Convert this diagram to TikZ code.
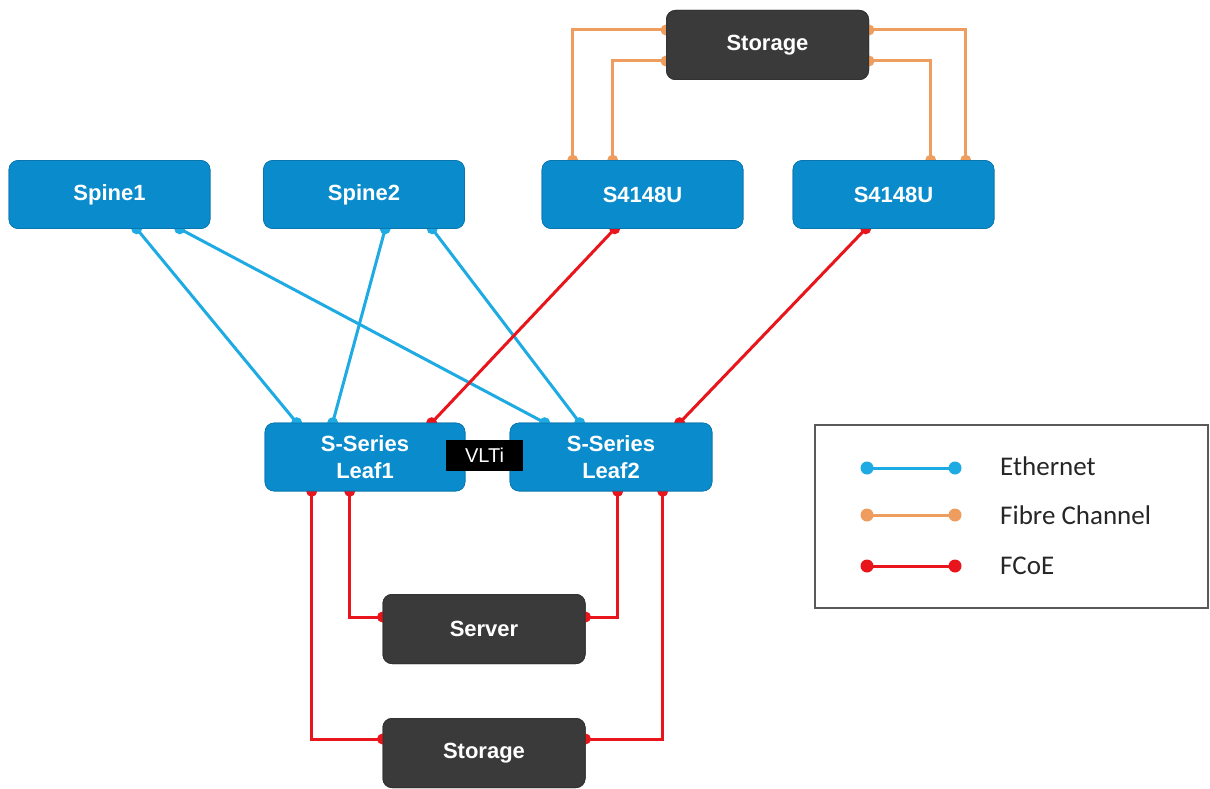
\documentclass[tikz,border=0pt]{standalone}
\usepackage{fontspec}
\setmainfont{Liberation Sans}
\newfontfamily\legendfont{Carlito}
\usetikzlibrary{calc}
\definecolor{dellblue}{HTML}{0A8BCB}
\definecolor{darkbox}{HTML}{3A3A3A}
\definecolor{ethc}{HTML}{1EAAE2}
\definecolor{fcc}{HTML}{EE9D5E}
\definecolor{fcoec}{HTML}{E8161C}
\begin{document}
\begin{tikzpicture}[x=1pt,y=-1pt,
  bluebox/.style={draw=dellblue!85!black, line width=0.6pt, fill=dellblue, rounded corners=9pt, text=white,
    font=\fontsize{22}{27}\selectfont\bfseries, align=center, inner sep=0pt, minimum width=201pt, minimum height=68pt},
  darkbox/.style={draw=black!80, line width=1pt, fill=darkbox, rounded corners=9pt, text=white,
    font=\fontsize{22}{27}\selectfont\bfseries, inner sep=0pt, minimum width=202pt, minimum height=69pt},
  vltibox/.style={fill=black, text=white, inner sep=0pt, minimum width=77pt, minimum height=31pt,
    font=\fontsize{20}{22}\selectfont},
  eth/.style={draw=ethc, line width=3pt},
  fc/.style={draw=fcc, line width=3pt},
  fcoe/.style={draw=fcoec, line width=3pt},
  legtext/.style={anchor=west, inner sep=0pt, font=\legendfont\fontsize{27}{30}\selectfont, text=black!85}
]
\useasboundingbox (0,0) rectangle (1210,789);

% nodes
\node[bluebox] (spine1) at (109.5,194.5) {Spine1};
\node[bluebox] (spine2) at (364,194.5) {Spine2};
\node[bluebox] (s1) at (642.5,194.5) {S4148U};
\node[bluebox] (s2) at (893.5,194.5) {S4148U};
\node[darkbox] (stortop) at (767.5,45) {Storage};
\node[bluebox, minimum width=200pt] (leaf1) at (365,457) {S-Series\\Leaf1};
\node[bluebox, minimum width=202pt] (leaf2) at (611,457) {S-Series\\Leaf2};
\node[vltibox] (vlti) at (484.5,455.5) {VLTi};
\node[darkbox] (server) at (484,629) {Server};
\node[darkbox] (storbot) at (484,753) {Storage};

% port coordinates
\coordinate (sp1a) at ($(spine1.south west)+(128,0)$);
\coordinate (sp1b) at ($(spine1.south west)+(171,0)$);
\coordinate (sp2a) at ($(spine2.south west)+(122,0)$);
\coordinate (sp2b) at ($(spine2.south west)+(169,0)$);
\coordinate (s1d) at ($(s1.south west)+(73,0)$);
\coordinate (s2d) at ($(s2.south west)+(73,0)$);
\coordinate (l1a) at ($(leaf1.north west)+(32,0)$);
\coordinate (l1b) at ($(leaf1.north west)+(68,0)$);
\coordinate (l1c) at ($(leaf1.north west)+(167,0)$);
\coordinate (l2a) at ($(leaf2.north west)+(35,0)$);
\coordinate (l2b) at ($(leaf2.north west)+(70,0)$);
\coordinate (l2c) at ($(leaf2.north west)+(170,0)$);
\coordinate (s1u1) at ($(s1.north west)+(31,0)$);
\coordinate (s1u2) at ($(s1.north west)+(71,0)$);
\coordinate (s2u1) at ($(s2.north west)+(138,0)$);
\coordinate (s2u2) at ($(s2.north west)+(173,0)$);
\coordinate (stw1) at ($(stortop.north west)+(0,20)$);
\coordinate (stw2) at ($(stortop.north west)+(0,51)$);
\coordinate (ste1) at ($(stortop.north east)+(0,20)$);
\coordinate (ste2) at ($(stortop.north east)+(0,51)$);
\coordinate (l1d1) at ($(leaf1.south west)+(47,0)$);
\coordinate (l1d2) at ($(leaf1.south west)+(85,0)$);
\coordinate (l2d1) at ($(leaf2.south west)+(108,0)$);
\coordinate (l2d2) at ($(leaf2.south west)+(153,0)$);
\coordinate (svw) at ($(server.north west)+(0,23)$);
\coordinate (sve) at ($(server.north east)+(0,23)$);
\coordinate (sbw) at ($(storbot.north west)+(0,21)$);
\coordinate (sbe) at ($(storbot.north east)+(0,21)$);

% Ethernet links
\draw[eth] (sp1a) -- (l1a);
\draw[eth] (sp1b) -- (l2a);
\draw[eth] (sp2a) -- (l1b);
\draw[eth] (sp2b) -- (l2b);
\foreach \p in {sp1a,sp1b,sp2a,sp2b,l1a,l1b,l2a,l2b} \fill[ethc] (\p) circle (5.5pt);

% FCoE uplinks
\draw[fcoe] (s1d) -- (l1c);
\draw[fcoe] (s2d) -- (l2c);

% Fibre Channel
\draw[fc] (stw1) -| (s1u1);
\draw[fc] (stw2) -| (s1u2);
\draw[fc] (ste1) -| (s2u2);
\draw[fc] (ste2) -| (s2u1);
\foreach \p in {stw1,stw2,ste1,ste2,s1u1,s1u2,s2u1,s2u2} \fill[fcc] (\p) circle (5.5pt);

% FCoE down links
\draw[fcoe] (l1d1) |- (sbw);
\draw[fcoe] (l1d2) |- (svw);
\draw[fcoe] (l2d1) |- (sve);
\draw[fcoe] (l2d2) |- (sbe);
\foreach \p in {s1d,s2d,l1c,l2c,l1d1,l1d2,l2d1,l2d2,svw,sve,sbw,sbe} \fill[fcoec] (\p) circle (5.5pt);

% redraw nodes on top for clean edges
\node[bluebox] at (spine1) {Spine1};
\node[bluebox] at (spine2) {Spine2};
\node[bluebox] at (s1) {S4148U};
\node[bluebox] at (s2) {S4148U};
\node[darkbox] at (stortop) {Storage};
\node[bluebox, minimum width=200pt] at (leaf1) {S-Series\\Leaf1};
\node[bluebox, minimum width=202pt] at (leaf2) {S-Series\\Leaf2};
\node[vltibox] at (vlti) {VLTi};
\node[darkbox] at (server) {Server};
\node[darkbox] at (storbot) {Storage};

% Legend
\node[draw=black!65, line width=1.6pt, minimum width=393pt, minimum height=183pt, inner sep=0pt] (legend) at (1011.5,516.5) {};
\coordinate (le1) at (867,468); \coordinate (le2) at (955,468);
\coordinate (lf1) at (867,515); \coordinate (lf2) at (955,515);
\coordinate (lc1) at (867,566); \coordinate (lc2) at (955,566);
\draw[eth] (le1) -- (le2);
\draw[fc] (lf1) -- (lf2);
\draw[fcoe] (lc1) -- (lc2);
\foreach \p in {le1,le2} \fill[ethc] (\p) circle (6.5pt);
\foreach \p in {lf1,lf2} \fill[fcc] (\p) circle (6.5pt);
\foreach \p in {lc1,lc2} \fill[fcoec] (\p) circle (6.5pt);
\node[legtext] (tle) at (1000,466) {Ethernet};
\node[legtext] (tlf) at (1000,515) {Fibre Channel};
\node[legtext] (tlc) at (1000,566) {FCoE};
\end{tikzpicture}
\end{document}
